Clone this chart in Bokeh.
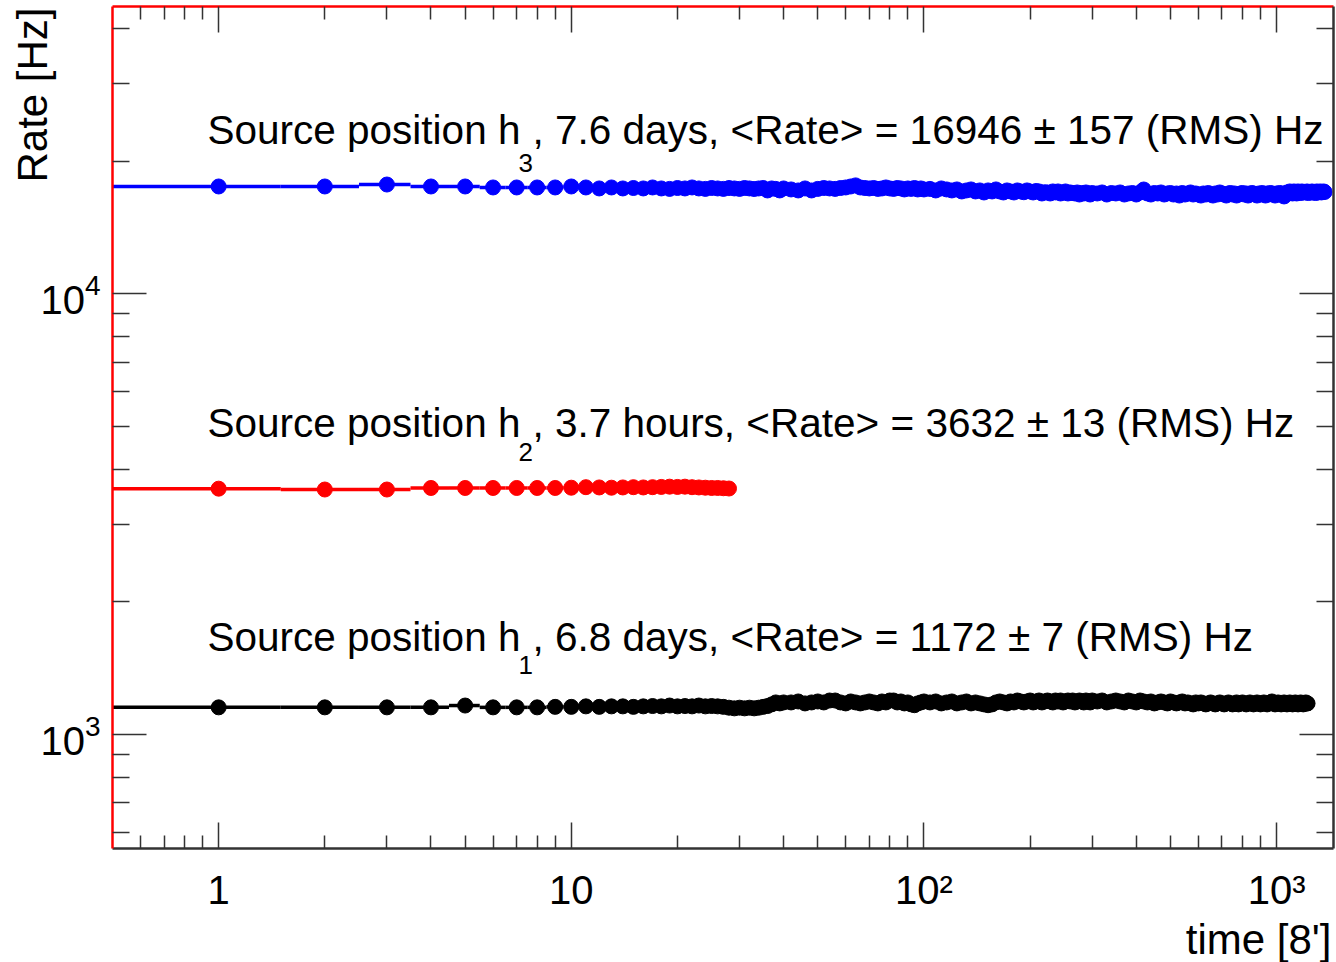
from bokeh.plotting import figure
from bokeh.models import (Range1d, LogAxis, FixedTicker, Label, LogTickFormatter,
                          ColumnDataSource, CustomJSTickFormatter, Title)
from bokeh.embed import file_html
from bokeh.resources import INLINE

FONT = "Liberation Sans"

# ---------------- data (time bins of 8 minutes, rate in Hz) ----------------
blue_t = (list(range(1, 41)) + list(range(42, 101, 2)) + list(range(104, 301, 4))
          + list(range(310, 1361, 10)) + [1368])
blue_rate = [
    17520, 17520, 17700, 17520, 17520, 17430, 17430, 17430, 17430, 17520,
    17430, 17340, 17430, 17340, 17380, 17340, 17430, 17340, 17300, 17380,
    17340, 17430, 17340, 17300, 17380, 17340, 17300, 17380, 17340, 17300,
    17380, 17340, 17290, 17340, 17380, 17160, 17340, 17300, 17160, 17340,
    # 42 .. 100
    17250, 17160, 17340, 17160, 17300, 17380, 17340, 17300, 17380, 17430,
    17520, 17620, 17430, 17380, 17340, 17380, 17300, 17340, 17430, 17340,
    17300, 17380, 17340, 17250, 17340, 17300, 17380, 17250, 17340, 17250,
    # 104 .. 300
    17300, 17160, 17340, 17250, 17160, 17250, 17070, 17160, 17250, 17070,
    17160, 16980, 17160, 17070, 17250, 17070, 16980, 17160, 17070, 16980,
    17160, 17070, 17000, 17160, 17070, 16980, 17110, 17070, 16890, 17000,
    16980, 16890, 17070, 16980, 17070, 16890, 16980, 17070, 16890, 16980,
    16930, 16890, 16980, 16800, 16930, 16890, 16980, 16890, 16800, 16930,
    # 310 .. 1360
    16890, 16980, 16800, 16930, 16890, 16980, 16800, 16890, 16930, 16800,
    16980, 17245, 16890, 16800, 16930, 16890, 16980, 16800, 16890, 16930,
    16800, 16890, 16710, 16930, 16800, 16890, 16980, 16800, 16890, 16800,
    16710, 16890, 16800, 16930, 16800, 16710, 16890, 16800, 16980, 16890,
    16800, 16710, 16890, 16930, 16800, 16890, 16710, 16800, 16890, 16930,
    16800, 16890, 16710, 16800, 16930, 16890, 16800, 16710, 16890, 16800,
    16930, 16800, 16710, 16890, 16800, 16930, 16890, 16800, 16710, 16890,
    16800, 16930, 16890, 16800, 16630, 16890, 16980, 16890, 17070, 16980,
    16890, 17070, 16980, 16890, 17070, 16980, 16930, 17070, 16980, 17020,
    16980, 17070, 16930, 17020, 16980, 17070, 16980, 17020, 16930, 17070,
    16980, 17020, 17070, 16980, 17020, 17070,
    # 1368
    17020]

red_t = list(range(1, 29))
red_rate = [3612, 3596, 3596, 3625, 3625, 3625, 3625, 3625, 3625, 3630,
            3640, 3635, 3630, 3635, 3640, 3635, 3640, 3645, 3650, 3645,
            3650, 3640, 3635, 3630, 3625, 3625, 3620, 3615]

black_t = (list(range(1, 41)) + list(range(42, 101, 2)) + list(range(104, 301, 4))
           + list(range(310, 1221, 10)) + [1224])
black_rate = [
    1152, 1152, 1152, 1152, 1163, 1152, 1152, 1152, 1155, 1155,
    1158, 1155, 1158, 1158, 1155, 1158, 1160, 1158, 1163, 1158,
    1160, 1158, 1163, 1158, 1160, 1158, 1155, 1150, 1146, 1150,
    1146, 1150, 1146, 1150, 1155, 1160, 1170, 1182, 1176, 1182,
    # 42 .. 100
    1182, 1188, 1176, 1182, 1188, 1182, 1194, 1194, 1182, 1176,
    1188, 1182, 1176, 1182, 1188, 1182, 1176, 1188, 1182, 1194,
    1194, 1182, 1188, 1176, 1182, 1170, 1165, 1176, 1182, 1188,
    # 104 .. 300
    1182, 1188, 1176, 1182, 1188, 1176, 1182, 1188, 1176, 1182,
    1176, 1170, 1165, 1170, 1182, 1188, 1182, 1176, 1188, 1182,
    1194, 1188, 1182, 1188, 1194, 1182, 1188, 1194, 1182, 1188,
    1194, 1188, 1182, 1194, 1188, 1194, 1182, 1188, 1194, 1188,
    1194, 1182, 1188, 1194, 1188, 1182, 1194, 1188, 1182, 1194,
    # 310 .. 1220
    1188, 1194, 1182, 1188, 1194, 1188, 1182, 1194, 1188, 1182,
    1194, 1188, 1182, 1188, 1176, 1182, 1188, 1182, 1176, 1188,
    1182, 1176, 1182, 1188, 1176, 1182, 1176, 1170, 1182, 1176,
    1182, 1176, 1170, 1176, 1182, 1176, 1170, 1176, 1182, 1176,
    1170, 1176, 1182, 1176, 1170, 1176, 1182, 1170, 1176, 1182,
    1176, 1170, 1176, 1182, 1176, 1170, 1176, 1182, 1176, 1170,
    1176, 1182, 1176, 1170, 1176, 1182, 1188, 1176, 1170, 1176,
    1182, 1176, 1170, 1176, 1182, 1176, 1170, 1176, 1182, 1176,
    1170, 1176, 1182, 1176, 1170, 1176, 1182, 1176, 1170, 1176,
    1182, 1176,
    # 1224
    1176]

assert len(blue_t) == len(blue_rate), (len(blue_t), len(blue_rate))
assert len(black_t) == len(black_rate), (len(black_t), len(black_rate))
assert len(red_t) == len(red_rate)

x_major = [1, 10, 100, 1000]
x_tick_labels = {1: "1", 10: "10", 100: "10\u00b2", 1000: "10\u00b3"}
x_minor = [0.6, 0.7, 0.8, 0.9, 2, 3, 4, 5, 6, 7, 8, 9, 20, 30, 40, 50, 60, 70, 80, 90,
           200, 300, 400, 500, 600, 700, 800, 900]
y_major = [1000, 10000]
y_minor = [600, 700, 800, 900, 2000, 3000, 4000, 5000, 6000, 7000, 8000, 9000,
           20000, 30000, 40000]

series = [
    (blue_t, blue_rate, "#0000ff"),
    (red_t, red_rate, "#ff0000"),
    (black_t, black_rate, "#000000"),
]

# (main text, subscript, rest, main baseline px, subscript baseline px)
texts = [
    ("Source position h", "3", ", 7.6 days, <Rate> = 16946 \u00b1 157 (RMS) Hz", 129, 162),
    ("Source position h", "2", ", 3.7 hours, <Rate> = 3632 \u00b1 13 (RMS) Hz", 422, 451),
    ("Source position h", "1", ", 6.8 days, <Rate> = 1172 \u00b1 7 (RMS) Hz", 636, 664),
]

# ---------------- figure ----------------
FL, FB = 112, 848   # frame left / bottom in canvas pixels (for screen-unit labels)

p = figure(width=1336, height=962, x_axis_type="log", y_axis_type="log",
           x_range=Range1d(0.5, 1450), y_range=Range1d(551, 44870),
           output_backend="svg", toolbar_location=None,
           min_border_left=FL, min_border_right=3, min_border_top=6,
           min_border_bottom=962 - FB)
p.outline_line_color = None
p.grid.visible = False
p.background_fill_color = "white"
p.border_fill_color = "white"


def style_axis(ax, major, minor, tin_major, tin_minor, color, labels):
    ax.ticker = FixedTicker(ticks=major, minor_ticks=minor)
    ax.major_tick_in = tin_major
    ax.major_tick_out = 0
    ax.minor_tick_in = tin_minor
    ax.minor_tick_out = 0
    ax.major_tick_line_color = "#333333"
    ax.minor_tick_line_color = "#333333"
    ax.major_tick_line_width = 1.5
    ax.minor_tick_line_width = 1.5
    ax.axis_line_color = color
    ax.axis_line_width = 2.5
    ax.major_label_text_font = FONT
    ax.major_label_text_color = "black"
    if labels:
        ax.major_label_text_font_size = "40px"
    else:
        ax.formatter = CustomJSTickFormatter(code="return ''")
        ax.major_label_text_font_size = "2px"
        ax.major_label_standoff = 0


xb = p.xaxis[0]
style_axis(xb, x_major, x_minor, 26, 13, "#333333", True)
xb.major_label_overrides = x_tick_labels
xb.major_label_standoff = 19

yl = p.yaxis[0]
style_axis(yl, y_major, y_minor, 34, 17, "#ff0000", True)
yl.formatter = LogTickFormatter()
yl.major_label_standoff = 12

xt = LogAxis()
style_axis(xt, x_major, x_minor, 26, 13, "#ff0000", False)
p.add_layout(xt, "above")

yr = LogAxis()
style_axis(yr, y_major, y_minor, 34, 17, "#333333", False)
p.add_layout(yr, "right")

# axis titles, right/top aligned as in the original
p.add_layout(Title(text="time [8']", align="right", vertical_align="bottom",
                   text_font=FONT, text_font_size="42px", text_font_style="normal",
                   text_color="black", standoff=-2, offset=2), "below")
p.add_layout(Title(text="Rate [Hz]", align="right", vertical_align="bottom",
                   text_font=FONT, text_font_size="42px", text_font_style="normal",
                   text_color="black", standoff=-36, offset=1), "left")

# ---------------- data marks ----------------
for t, r, c in series:
    left = []
    right = []
    n = len(t)
    for i in range(n):
        left.append(t[i] - 0.5 if i == 0 else (t[i - 1] + t[i]) / 2)
        right.append(t[i] + 0.5 if i == n - 1 else (t[i] + t[i + 1]) / 2)
    src = ColumnDataSource(dict(t=t, r=r, l=left, rr=right))
    p.segment(x0="l", y0="r", x1="rr", y1="r", source=src, line_color=c, line_width=3.5)
    p.scatter(x="t", y="r", source=src, size=15, fill_color=c, line_color=c)

# ---------------- annotations ----------------
for main, sub, rest, base, sub_base in texts:
    p.add_layout(Label(x=207 - FL, y=FB - base, x_units="screen", y_units="screen",
                       text=main, text_font=FONT, text_font_size="40.5px",
                       text_color="black", text_baseline="alphabetic", text_align="left"))
    p.add_layout(Label(x=518 - FL, y=FB - sub_base, x_units="screen", y_units="screen",
                       text=sub, text_font=FONT, text_font_size="26px",
                       text_color="black", text_baseline="alphabetic", text_align="left"))
    p.add_layout(Label(x=532 - FL, y=FB - base, x_units="screen", y_units="screen",
                       text=rest, text_font=FONT, text_font_size="40.5px",
                       text_color="black", text_baseline="alphabetic", text_align="left"))

open("out.html", "w").write(file_html(p, INLINE))
